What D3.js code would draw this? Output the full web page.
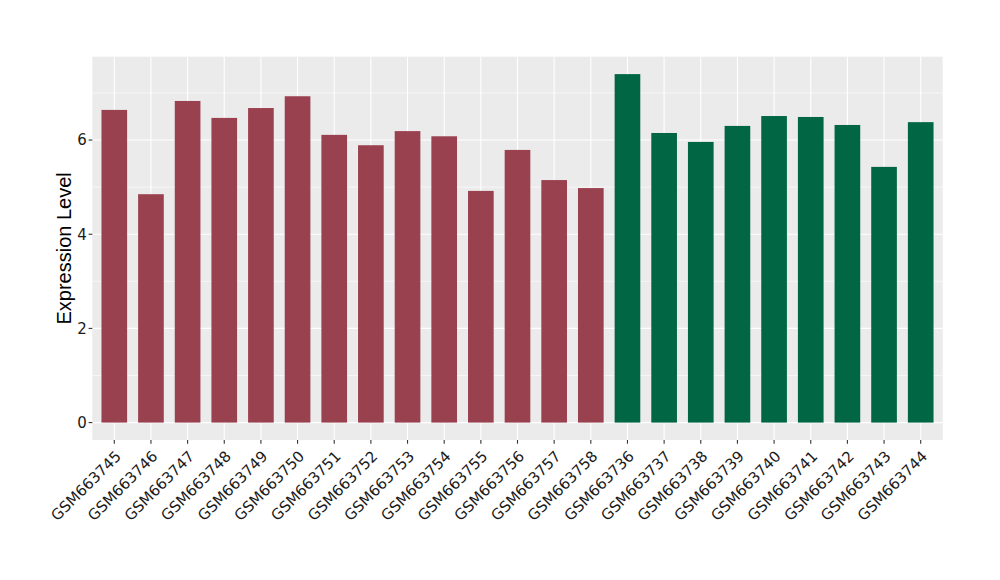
<!DOCTYPE html>
<html><head><meta charset="utf-8">
<script src="https://cdn.jsdelivr.net/npm/d3@7"></script>
<style>body{margin:0;background:#fff}svg{display:block}</style>
</head><body>
<svg id="c" width="1000" height="580"></svg>
<script>
const categories = ["GSM663745","GSM663746","GSM663747","GSM663748","GSM663749","GSM663750","GSM663751","GSM663752","GSM663753","GSM663754","GSM663755","GSM663756","GSM663757","GSM663758","GSM663736","GSM663737","GSM663738","GSM663739","GSM663740","GSM663741","GSM663742","GSM663743","GSM663744"];
const values = [6.64,4.85,6.83,6.47,6.68,6.93,6.11,5.89,6.19,6.08,4.92,5.79,5.15,4.98,7.40,6.15,5.96,6.30,6.51,6.49,6.32,5.43,6.38];
const groups = ["A","A","A","A","A","A","A","A","A","A","A","A","A","A","B","B","B","B","B","B","B","B","B"];
const groupColors = {A:"#9A4150", B:"#006644"};
const yTicks = [0,2,4,6];
const yMinor = [1,3,5,7];
const yTitle = "Expression Level";

const svg = d3.select("#c");
const L=92.3, T=56.7, R=942.7, B=440;
const ymax = d3.max(values);
const y = d3.scaleLinear().domain([-0.05*ymax, ymax*1.05]).range([B,T]);
const x = d3.scalePoint().domain(categories).range([L,R]).padding(0.6);
const bw = x.step()*0.7;

svg.append("rect").attr("x",L).attr("y",T).attr("width",R-L).attr("height",B-T).attr("fill","#EBEBEB");
svg.append("g").selectAll("line").data(yMinor).join("line")
  .attr("x1",L).attr("x2",R).attr("y1",d=>y(d)).attr("y2",d=>y(d)).attr("stroke","#fff").attr("stroke-width",0.55);
svg.append("g").selectAll("line").data(yTicks).join("line")
  .attr("x1",L).attr("x2",R).attr("y1",d=>y(d)).attr("y2",d=>y(d)).attr("stroke","#fff").attr("stroke-width",1.1);
svg.append("g").selectAll("line").data(categories).join("line")
  .attr("x1",d=>x(d)).attr("x2",d=>x(d)).attr("y1",T).attr("y2",B).attr("stroke","#fff").attr("stroke-width",1.1);

svg.append("g").selectAll("rect").data(categories).join("rect")
  .attr("x",d=>x(d)-bw/2).attr("width",bw)
  .attr("y",(d,i)=>y(values[i])).attr("height",(d,i)=>y(0)-y(values[i]))
  .attr("fill",(d,i)=>groupColors[groups[i]]);

// y axis
const ya = svg.append("g");
ya.selectAll("line").data(yTicks).join("line")
  .attr("x1",L-3.7).attr("x2",L).attr("y1",d=>y(d)).attr("y2",d=>y(d)).attr("stroke","#333").attr("stroke-width",1.1);
ya.selectAll("text").data(yTicks).join("text")
  .attr("x",L-5.5).attr("y",d=>y(d)).attr("dy","0.36em").attr("text-anchor","end")
  .attr("font-family","DejaVu Sans").attr("font-size",15).attr("fill","#1a1a1a").text(d=>d);

// x axis
const xa = svg.append("g");
xa.selectAll("line").data(categories).join("line")
  .attr("x1",d=>x(d)).attr("x2",d=>x(d)).attr("y1",B).attr("y2",B+3.7).attr("stroke","#333").attr("stroke-width",1.1);
xa.selectAll("text").data(categories).join("text")
  .attr("transform",d=>`translate(${x(d)},${B+9.5}) rotate(-45)`)
  .attr("text-anchor","end").attr("dy","0.72em")
  .attr("font-family","DejaVu Sans").attr("font-size",15).attr("fill","#1a1a1a").text(d=>d);

svg.append("text").attr("transform",`translate(71,${(T+B)/2}) rotate(-90)`)
  .attr("text-anchor","middle").attr("font-family","Liberation Sans").attr("font-size",20).attr("fill","#000").text(yTitle);
</script>
</body></html>
